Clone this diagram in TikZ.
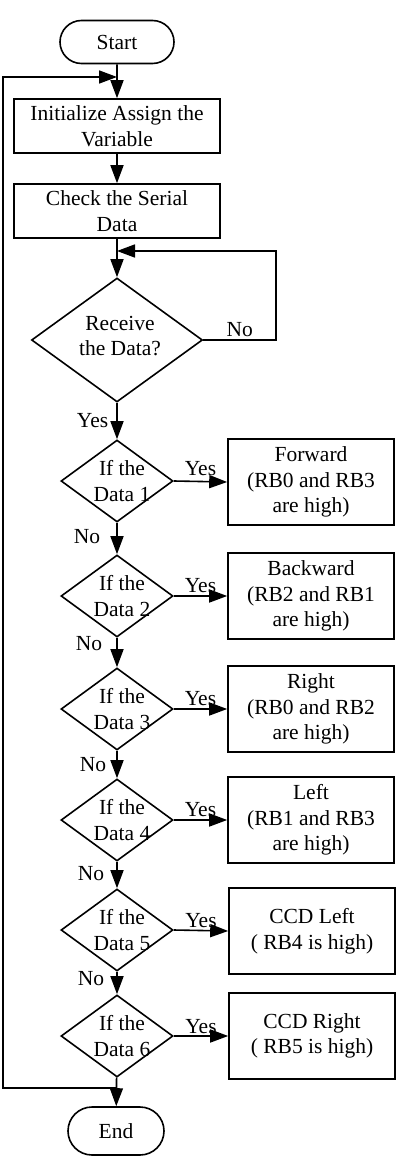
\documentclass[tikz,border=0pt]{standalone}
\usepackage{fontspec}
\setmainfont{Liberation Serif}
\usepackage{tikz}
\usetikzlibrary{shapes.geometric, shapes.misc, arrows.meta, positioning}

\begin{document}
\begin{tikzpicture}[
  x=1pt, y=-1pt,
  every node/.style={font=\fontsize{21.5}{25.5}\selectfont},
  base/.style={draw, line width=1.6pt, align=center, inner sep=2pt},
  termbox/.style={base, rounded rectangle, minimum width=118pt, minimum height=43pt},
  procbox/.style={base, rectangle, minimum width=206pt, minimum height=54pt},
  actbox/.style={base, rectangle, minimum width=166pt, minimum height=86pt},
  decbox/.style={base, diamond, minimum width=112pt, minimum height=82pt, inner sep=0pt},
  arr/.style={-{Triangle[length=18pt,width=13pt]}, line width=1.6pt},
  lbl/.style={inner sep=2pt}
]
\useasboundingbox (0,0) rectangle (400,1166);

%% ── TOP: start and set-up boxes ──────────────────────────────────────
\node[termbox] at (117,42)  (start) {Start};
\node[procbox] at (117,126) (init)  {Initialize Assign the\\Variable};
\node[procbox] at (117,211) (check) {Check the Serial\\Data};
\node[decbox, minimum width=171pt, minimum height=124pt,
      label={[align=center, xshift=3pt, yshift=4pt]center:Receive\\the Data?}]
      at (117,340) (recv) {};

%% ── DECISION column ──────────────────────────────────────────────────
\node[decbox, label={[align=center, xshift=5pt]center:If the\\Data 1}] at (117,481)  (d1) {};
\node[decbox, label={[align=center, xshift=5pt]center:If the\\Data 2}] at (117,596)  (d2) {};
\node[decbox, label={[align=center, xshift=5pt]center:If the\\Data 3}] at (117,709)  (d3) {};
\node[decbox, label={[align=center, xshift=5pt]center:If the\\Data 4}] at (117,820)  (d4) {};
\node[decbox, label={[align=center, xshift=5pt]center:If the\\Data 5}] at (117,930)  (d5) {};
\node[decbox, label={[align=center, xshift=5pt]center:If the\\Data 6}] at (117,1036) (d6) {};

%% ── ACTION column ────────────────────────────────────────────────────
\node[actbox] at (311,482)  (fwd)  {Forward\\(RB0 and RB3\\are high)};
\node[actbox] at (311,596)  (bwd)  {Backward\\(RB2 and RB1\\are high)};
\node[actbox] at (311,709)  (rgt)  {Right\\(RB0 and RB2\\are high)};
\node[actbox] at (311,820)  (lft)  {Left\\(RB1 and RB3\\are high)};
\node[actbox] at (312,931)  (ccdl) {CCD Left\\( RB4 is high)};
\node[actbox] at (312,1036) (ccdr) {CCD Right\\( RB5 is high)};

\node[termbox, minimum width=100pt, minimum height=48pt] at (116,1131) (end) {End};

%% ── loop corners ─────────────────────────────────────────────────────
\coordinate (loopin) at (117,77);
\coordinate (lt)     at (3,77);
\coordinate (lb)     at (3,1088);
\coordinate (jn)     at (117,1088);
\coordinate (rin)    at (117,251);
\coordinate (rr)     at (276,251);

%% ── main flow ────────────────────────────────────────────────────────
\draw[arr] (start) -- (init);
\draw[arr] (init)  -- (check);
\draw[arr] (check) -- (recv);
\draw[arr] (recv.east) -| node[pos=0.25, above, lbl] {No} (rr) -- (rin);
\draw[arr] (recv) -- node[left, lbl, xshift=-6pt] {Yes} (d1);

%% ── No chain ─────────────────────────────────────────────────────────
\draw[arr] (d1) -- node[pos=0.45, left, lbl, xshift=-14pt] {No} (d2);
\draw[arr] (d2) -- node[pos=0.2,  left, lbl, xshift=-12pt] {No} (d3);
\draw[arr] (d3) -- node[pos=0.5,  left, lbl, xshift=-8pt]  {No} (d4);
\draw[arr] (d4) -- node[pos=0.45, left, lbl, xshift=-10pt] {No} (d5);
\draw[arr] (d5) -- node[pos=0.3,  left, lbl, xshift=-10pt] {No} (d6);
\draw[arr] (d6) -- (end);

%% ── Yes branches ─────────────────────────────────────────────────────
\draw[arr] (d1.east) -- node[above, lbl, yshift=3pt] {Yes} (fwd.west);
\draw[arr] (d2.east) -- node[above, lbl] {Yes} (bwd.west);
\draw[arr] (d3.east) -- node[above, lbl] {Yes} (rgt.west);
\draw[arr] (d4.east) -- node[above, lbl] {Yes} (lft.west);
\draw[arr] (d5.east) -- node[above, lbl] {Yes} (ccdl.west);
\draw[arr] (d6.east) -- node[above, lbl] {Yes} (ccdr.west);

%% ── back to start of loop ────────────────────────────────────────────
\draw[arr] (jn) -- (lb) -- (lt) -- (loopin);

\end{tikzpicture}
\end{document}
